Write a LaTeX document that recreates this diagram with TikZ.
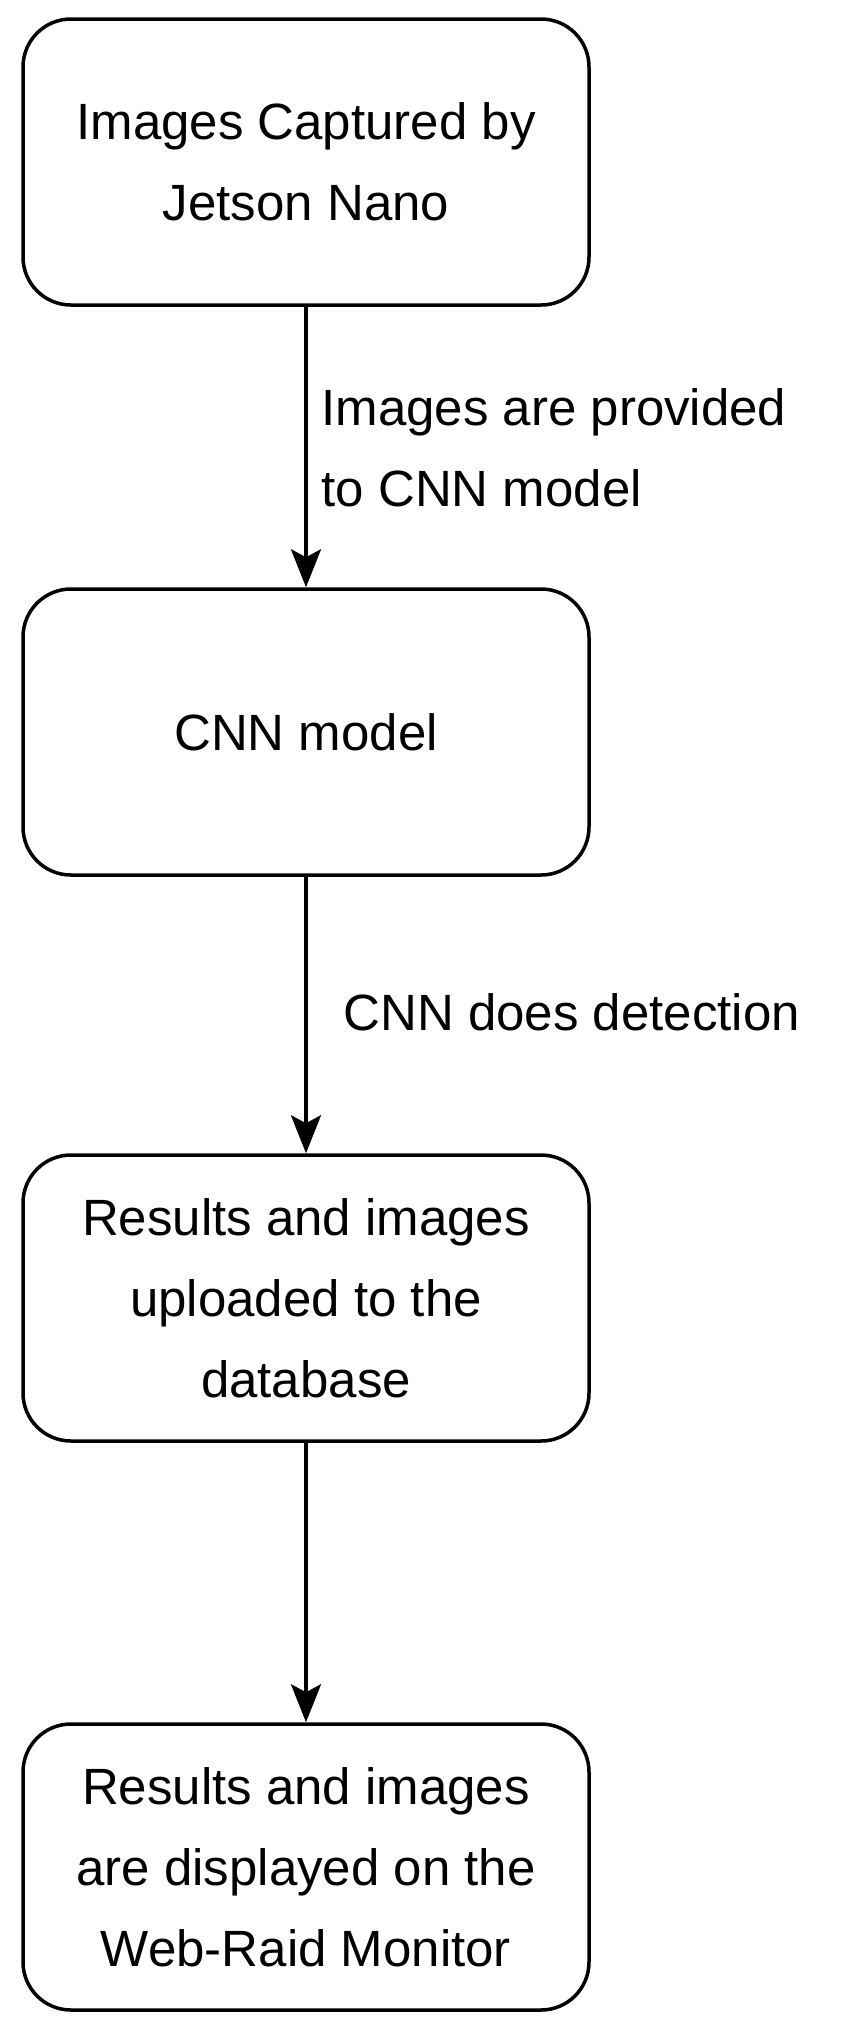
\documentclass[tikz,border=0pt]{standalone}
\usepackage{fontspec}
\setmainfont{Liberation Sans}
\usetikzlibrary{arrows.meta}
\begin{document}
\begin{tikzpicture}[x=1pt,y=-1pt,
  box/.style={draw,line width=3.5pt,rounded corners=48pt,minimum width=566pt,minimum height=286pt,align=center,font=\fontsize{51}{81}\selectfont},
  lab/.style={align=left,font=\fontsize{51}{81}\selectfont,anchor=west},
  arr/.style={line width=3.5pt,-{Stealth[length=38pt,width=30pt,inset=8pt]}}]
\useasboundingbox (0,0) rectangle (866,2022);
\node[box] (a) at (306,162) {Images Captured by\\Jetson Nano};
\node[box] (b) at (306,732) {CNN model};
\node[box] (c) at (306,1298) {Results and images\\uploaded to the\\database};
\node[box] (d) at (306,1867) {Results and images\\are displayed on the\\Web-Raid Monitor};
\draw[arr] (a) -- (b);
\draw[arr] (b) -- (c);
\draw[arr] (c) -- (d);
\node[lab] (l1) at (318,448) {Images are provided\\to CNN model};
\node[lab] (l2) at (340,1012) {CNN does detection};
\end{tikzpicture}
\end{document}
